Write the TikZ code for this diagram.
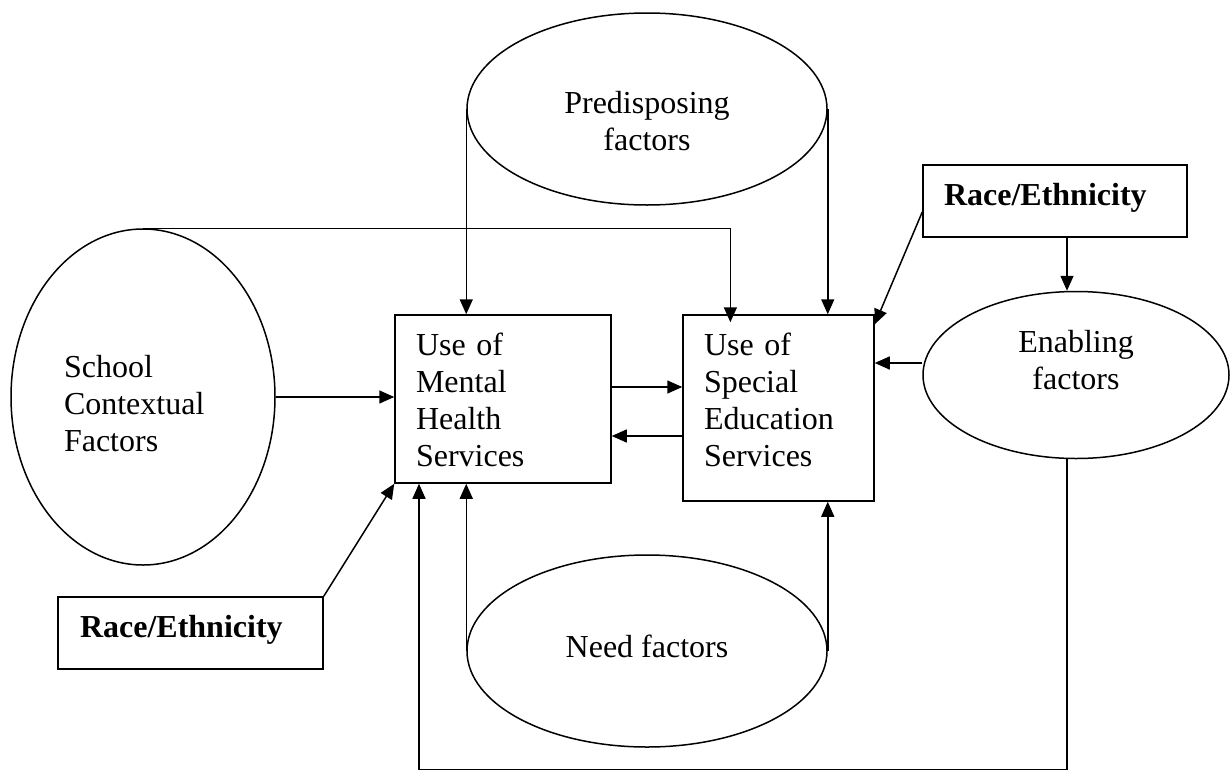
\documentclass[tikz,border=0pt]{standalone}
\usepackage{fontspec}
\setmainfont{Liberation Serif}
\usetikzlibrary{shapes.geometric, arrows.meta, calc}

\begin{document}
\begin{tikzpicture}[x=1pt, y=-1pt, line width=1.5pt,
    font=\fontsize{32}{37}\selectfont,
    oval/.style={draw, ellipse, inner sep=0pt, align=center},
    box/.style={draw, rectangle, inner xsep=21pt, inner ysep=0pt, align=left, text height=40pt},
    arr/.style={-{Triangle[length=15pt, width=13pt]}}]
      \useasboundingbox (0,0) rectangle (1230,771);

      \node[oval, minimum width=360pt, minimum height=192pt, text width=200pt, text height=20pt, text depth=12pt] (pre) at (647,109) {Predisposing\\factors};
      \node[oval, minimum width=264pt, minimum height=336pt, text width=158pt, align=left, text height=10pt, text depth=50pt] (sc) at (143,397) {School\\Contextual\\Factors};
      \node[box, text width=174pt, text depth=128pt] (mh) at (503,399) {Use of\\Mental\\Health\\Services};
      \node[box, text width=149pt, text depth=146pt] (se) at (778.5,408) {Use of\\Special\\Education\\Services};
      \node[box, text width=222pt, text depth=32pt] (race1) at (1055,201) {\textbf{Race/Ethnicity}};
      \node[box, inner xsep=22pt, text width=221pt, text depth=32pt] (race2) at (190.5,633) {\textbf{Race/Ethnicity}};
      \node[oval, minimum width=306pt, minimum height=167pt, text width=160pt, text height=10pt, text depth=56pt] (en) at (1076,375) {Enabling\\factors};
      \node[oval, minimum width=360pt, minimum height=192pt, text height=20pt, text depth=8pt] (nd) at (647,651) {Need factors};

      \path[arr] (pre.west) edge (pre.west |- mh.north);
      \path[arr] (pre.east) edge (pre.east |- se.north);
      \draw[arr, shorten >=-8pt] (sc.north) -| ($(se.north west)!.25!(se.north east)$);

      \path[arr] (sc.east) edge (sc.east -| mh.west);
      \path[arr] ([yshift=12pt]mh.east) edge ([yshift=12pt]mh.east -| se.west);
      \path[arr] ([yshift=-37pt]mh.east -| se.west) edge ([yshift=-37pt]mh.east);

      \path[arr] ([yshift=12pt]en.west) edge ([yshift=12pt]en.west -| se.east);
      \path[arr] ([yshift=-11pt]race1.west) edge ([yshift=-10pt]se.north east);
      \path[arr] ([xshift=12pt]race1.south) edge ([xshift=12pt]race1.south |- en.north);

      \path[arr] (race2.north east) edge (mh.south west);
      \path[arr] (nd.west) edge (nd.west |- mh.south);
      \path[arr] (nd.east) edge (nd.east |- se.south);
      \draw[arr] ([xshift=-9pt]en.south) -- ++(0,310) -| ([xshift=-84pt]mh.south);
    \end{tikzpicture}
\end{document}
